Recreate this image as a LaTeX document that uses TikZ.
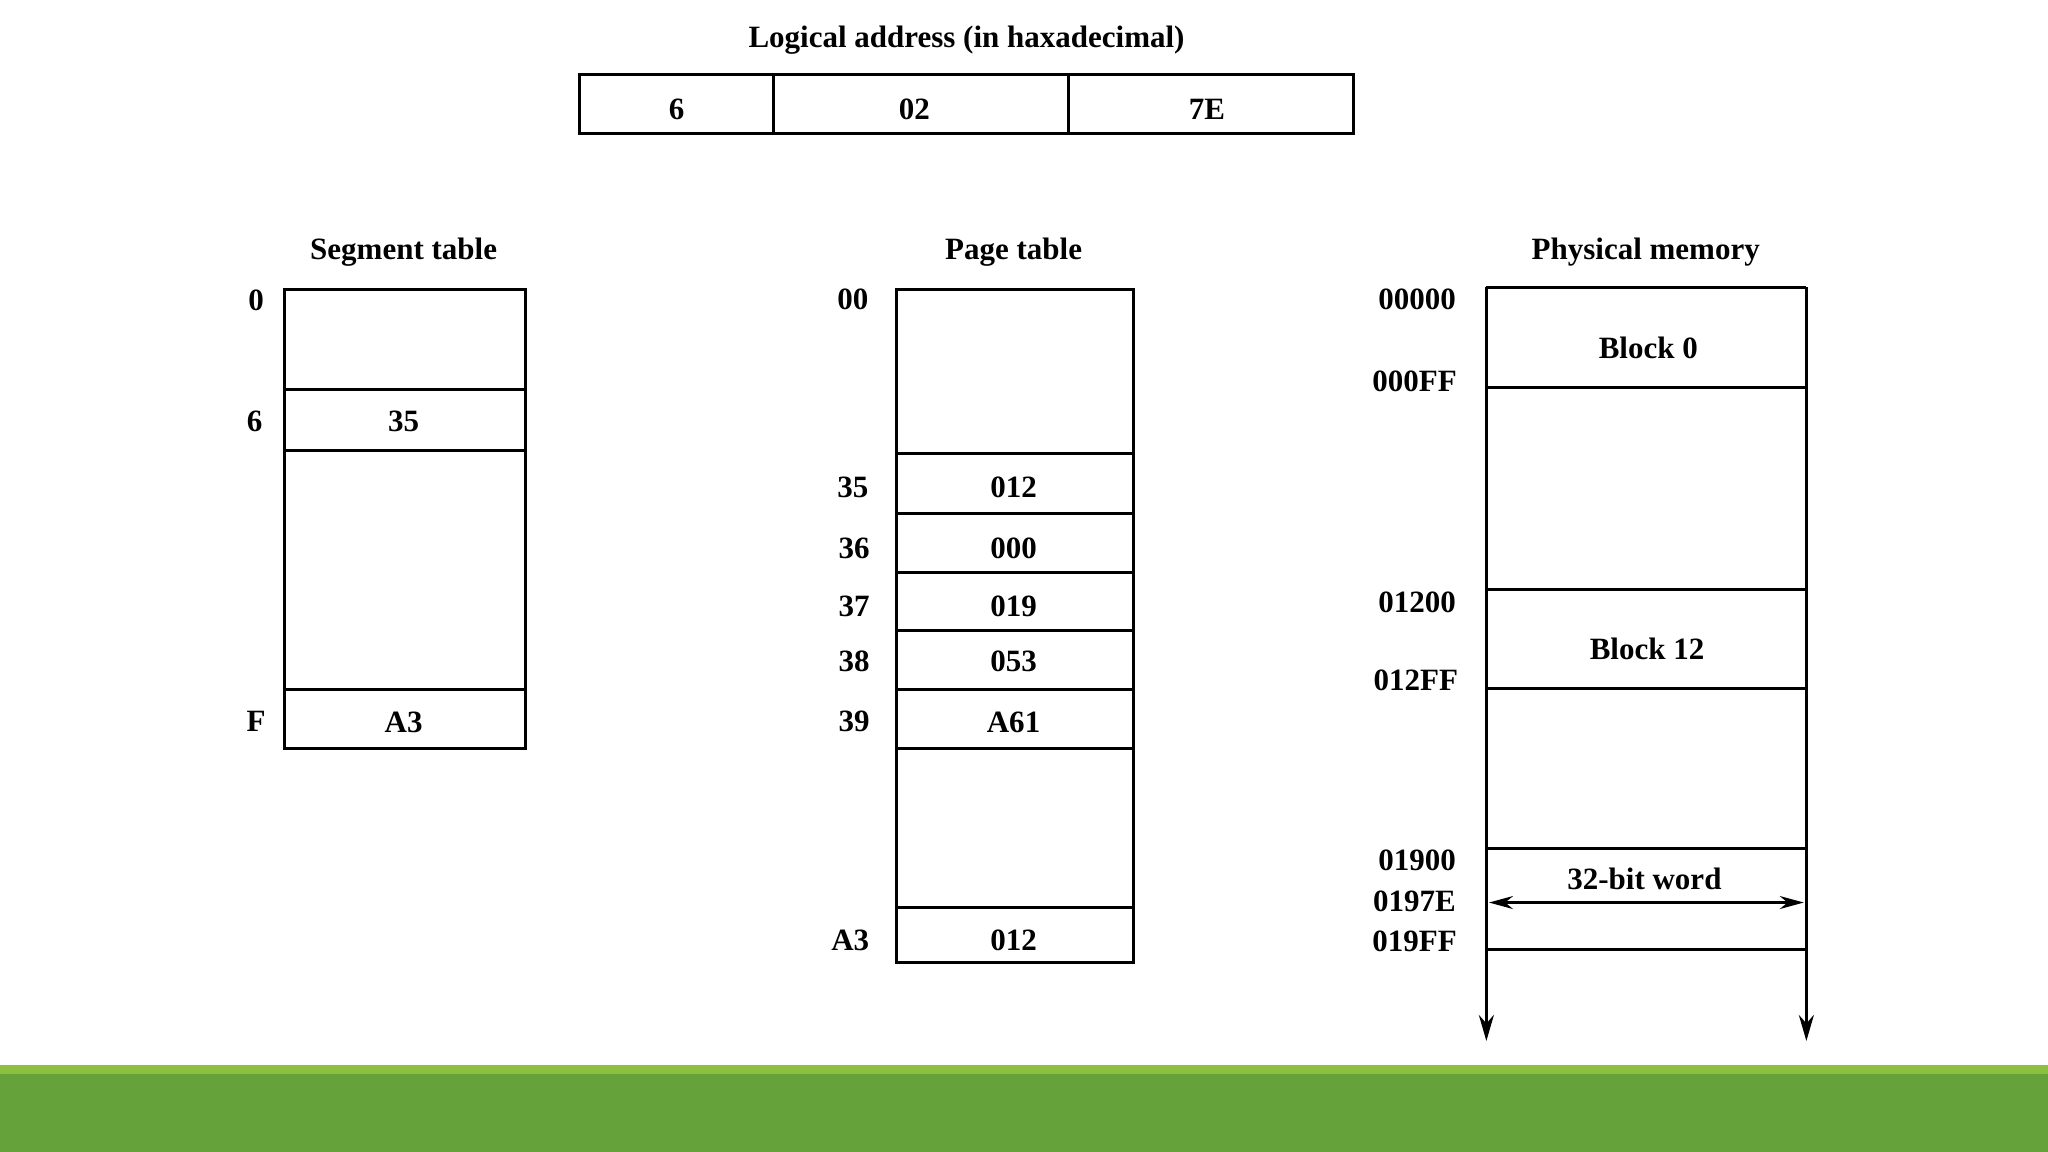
\documentclass[tikz,border=0pt]{standalone}
\usepackage{fontspec}
\setmainfont{Liberation Serif}
\usetikzlibrary{arrows.meta}
\definecolor{gtop}{HTML}{8DC03F}
\definecolor{gbot}{HTML}{66A23A}
\begin{document}
\begin{tikzpicture}[x=1.306pt,y=-1.306pt,
  box/.style={line width=3pt},
  txt/.style={font=\fontsize{31}{36}\selectfont\bfseries, inner sep=0pt},
  downarrow/.style={-{Stealth[length=26pt,width=15pt]}}]
\useasboundingbox (0,0) rectangle (1568,882);
\fill[gtop] (0,815) rectangle (1568,823);
\fill[gbot] (0,822) rectangle (1568,882);
% logical address
\node[txt] (lt) at (740,31) {Logical address (in haxadecimal)};
\draw[box] (444,57) rectangle (1036,102);
\draw[box] (592,57) -- (592,102) (818,57) -- (818,102);
\node[txt] (l1) at (518,84) {6};
\node[txt] (l2) at (700,84) {02};
\node[txt] (l3) at (924,84) {7E};
% segment table
\node[txt] (st) at (309,193) {Segment table};
\draw[box] (218,222) rectangle (402,573);
\foreach \y in {298,345,528} \draw[box] (218,\y) -- (402,\y);
\node[txt] (s0) at (196,230) {0};
\node[txt] (s6) at (195,323) {6};
\node[txt] (sF) at (196,552) {F};
\node[txt] (s35) at (309,323) {35};
\node[txt] (sA3) at (309,553) {A3};
% page table
\node[txt] (pt) at (776,193) {Page table};
\draw[box] (686,222) rectangle (868,737);
\foreach \y in {347,393,438,483,528,573,695} \draw[box] (686,\y) -- (868,\y);
\node[txt] (p00) at (653,229) {00};
\node[txt] (p35) at (653,373) {35};
\node[txt] (p36) at (654,420) {36};
\node[txt] (p37) at (654,464) {37};
\node[txt] (p38) at (654,506) {38};
\node[txt] (p39) at (654,552) {39};
\node[txt] (pA3) at (651,720) {A3};
\node[txt] (v1) at (776,373) {012};
\node[txt] (v2) at (776,420) {000};
\node[txt] (v3) at (776,464) {019};
\node[txt] (v4) at (776,506) {053};
\node[txt] (v5) at (776,553) {A61};
\node[txt] (v6) at (776,720) {012};
% physical memory
\node[txt] (pm) at (1260,193) {Physical memory};
\draw[box] (1138,220) -- (1383,220);
\foreach \y in {297,451,527,650,727} \draw[box] (1138,\y) -- (1383,\y);
\coordinate (bl) at (1138,797);
\coordinate (br) at (1383,797);
\draw[box,downarrow] (1138,220) -- (bl);
\draw[box,downarrow] (1383,220) -- (br);
\node[txt] (a0) at (1085,229) {00000};
\node[txt] (a1) at (1083,292) {000FF};
\node[txt] (a2) at (1085,461) {01200};
\node[txt] (a3) at (1084,521) {012FF};
\node[txt] (a4) at (1085,659) {01900};
\node[txt] (a5) at (1083,690) {0197E};
\node[txt] (a6) at (1083,721) {019FF};
\node[txt] (b0) at (1262,266) {Block 0};
\node[txt] (b12) at (1261,497) {Block 12};
\node[txt] (w) at (1259,673) {32-bit word};
\coordinate (wl) at (1140,691);
\coordinate (wr) at (1381,691);
\draw[line width=2.5pt,{Stealth[length=24pt,width=13pt]}-{Stealth[length=24pt,width=13pt]}] (wl) -- (wr);
\end{tikzpicture}
\end{document}
